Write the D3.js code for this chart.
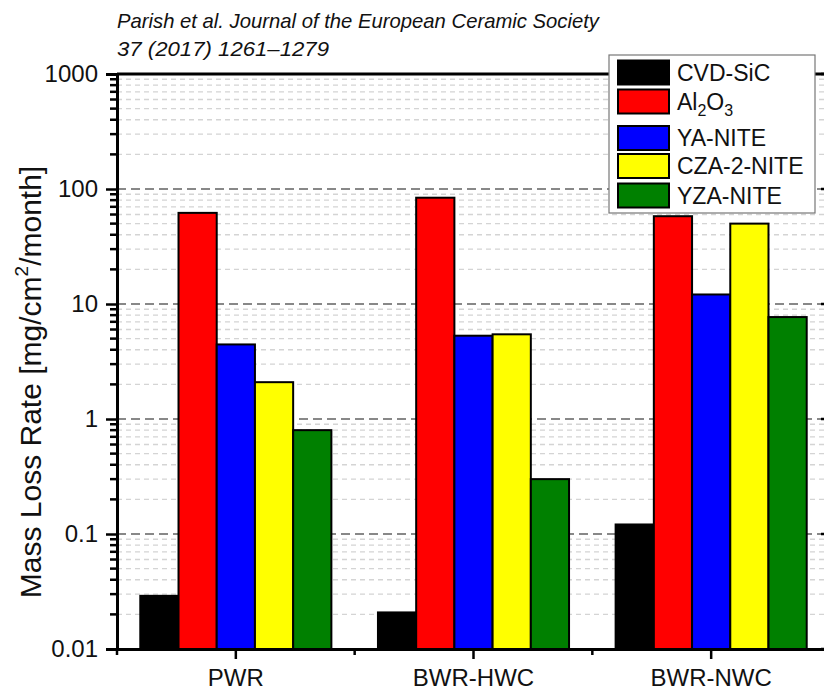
<!DOCTYPE html>
<html>
<head>
<meta charset="utf-8">
<script src="https://cdn.jsdelivr.net/npm/d3@7"></script>
<style>
  body { margin: 0; background: #fff; }
  text { font-family: "Liberation Sans", Arial, sans-serif; }
</style>
</head>
<body>
<svg id="chart"></svg>
<script>
const width = 824;
const height = 690;

// data
const reactors = ['PWR', 'BWR-HWC', 'BWR-NWC'];
const materials = ['CVD-SiC', 'Al2O3', 'YA-NITE', 'CZA-2-NITE', 'YZA-NITE'];
const colors = ['#000000', '#ff0000', '#0000ff', '#ffff00', '#008000'];
const cvdSic = [0.029, 0.0208, 0.121];
const al2o3 = [62, 84, 58];
const yaNite = [4.45, 5.3, 12.1];
const cza2Nite = [2.09, 5.45, 50];
const yzaNite = [0.8, 0.3, 7.7];
const series = [cvdSic, al2o3, yaNite, cza2Nite, yzaNite];
const yTicks = [0.01, 0.1, 1, 10, 100, 1000];
const yTickLabels = ['0.01', '0.1', '1', '10', '100', '1000'];

const pLeft = 117, pRight = 830, pTop = 74, pBottom = 649;

const svg = d3.select("#chart")
    .attr("width", width)
    .attr("height", height);

const x = d3.scaleBand()
    .domain(reactors)
    .range([pLeft, pRight])
    .paddingInner(0)
    .paddingOuter(0);

const groupW = x.bandwidth() * 0.804;
const xInner = d3.scaleBand()
    .domain(materials)
    .range([0, groupW]);

const y = d3.scaleLog()
    .domain([0.01, 1000])
    .range([pBottom, pTop]);

// minor values between decades
var minor = [];
for (let e = -2; e < 3; e++) {
    for (let m = 2; m <= 9; m++) minor.push(m * Math.pow(10, e));
}

// grid
svg.append("g").selectAll("line")
    .data(minor)
    .enter()
    .append("line")
    .attr("x1", pLeft).attr("x2", pRight)
    .attr("y1", d => y(d)).attr("y2", d => y(d))
    .attr("stroke", "#d4d4d4")
    .attr("stroke-width", 1.3)
    .attr("stroke-dasharray", "5,4");

svg.append("g").selectAll("line")
    .data(yTicks.slice(1, 5))
    .enter()
    .append("line")
    .attr("x1", pLeft).attr("x2", pRight)
    .attr("y1", d => y(d)).attr("y2", d => y(d))
    .attr("stroke", "#888")
    .attr("stroke-width", 2)
    .attr("stroke-dasharray", "9,5");

// bars
const groups = svg.append("g").selectAll("g")
    .data(reactors)
    .enter()
    .append("g")
    .attr("transform", d => `translate(${x(d) + (x.bandwidth() - groupW) / 2},0)`);

groups.selectAll("rect")
    .data((d, i) => materials.map((m, j) => ({ m: m, v: series[j][i], c: colors[j] })))
    .enter()
    .append("rect")
    .attr("x", d => xInner(d.m))
    .attr("width", xInner.bandwidth())
    .attr("y", d => y(d.v))
    .attr("height", d => pBottom - y(d.v))
    .attr("fill", d => d.c)
    .attr("stroke", "black")
    .attr("stroke-width", 2);

// frame
svg.append("line").attr("x1", pLeft).attr("x2", pRight).attr("y1", pTop).attr("y2", pTop)
    .attr("stroke", "black").attr("stroke-width", 3);
svg.append("line").attr("x1", pRight).attr("x2", pRight).attr("y1", pTop).attr("y2", pBottom)
    .attr("stroke", "black").attr("stroke-width", 3);

// y axis
const yAxis = d3.axisLeft(y)
    .tickValues(yTicks)
    .tickFormat((d, i) => yTickLabels[i])
    .tickSize(11)
    .tickPadding(8);
const gy = svg.append("g")
    .attr("transform", `translate(${pLeft},0)`)
    .call(yAxis);
gy.select(".domain").attr("stroke-width", 3);
gy.selectAll(".tick line").attr("stroke-width", 2.5);
gy.selectAll(".tick text")
    .attr("font-size", 24)
    .attr("font-family", "Liberation Sans, Arial, sans-serif")
    .attr("fill", "#111");

svg.append("g").selectAll("line")
    .data(minor)
    .enter()
    .append("line")
    .attr("x1", pLeft - 7).attr("x2", pLeft + 2)
    .attr("y1", d => y(d)).attr("y2", d => y(d))
    .attr("stroke", "black")
    .attr("stroke-width", 2.5);

// right inward ticks
svg.append("g").selectAll("line")
    .data(yTicks)
    .enter()
    .append("line")
    .attr("x1", pRight - 9).attr("x2", pRight)
    .attr("y1", d => y(d)).attr("y2", d => y(d))
    .attr("stroke", "black")
    .attr("stroke-width", 2.5);

// x axis
const xAxis = d3.axisBottom(x).tickSize(10).tickPadding(10).tickSizeOuter(0);
const gx = svg.append("g")
    .attr("transform", `translate(0,${pBottom})`)
    .call(xAxis);
gx.select(".domain").attr("stroke-width", 3);
gx.selectAll(".tick line").attr("stroke-width", 2.5);
gx.selectAll(".tick text")
    .attr("font-size", 24)
    .attr("font-family", "Liberation Sans, Arial, sans-serif")
    .attr("fill", "#111");

// minor x ticks at the band edges
svg.append("g").selectAll("line")
    .data(reactors.map(r => x(r)))
    .enter()
    .append("line")
    .attr("x1", d => d).attr("x2", d => d)
    .attr("y1", pBottom).attr("y2", pBottom + 6)
    .attr("stroke", "black")
    .attr("stroke-width", 2.5);

// y label
const ylab = svg.append("text")
    .attr("transform", `translate(41,382) rotate(-90)`)
    .attr("text-anchor", "middle")
    .attr("font-size", 30)
    .attr("fill", "#111");
ylab.append("tspan").text("Mass Loss Rate [mg/cm");
ylab.append("tspan").attr("font-size", 19).attr("dy", -13).text("2");
ylab.append("tspan").attr("dy", 13).text("/month]");

// title
svg.append("text")
    .attr("x", 117).attr("y", 28)
    .attr("font-family", "Open Sans, sans-serif")
    .attr("font-style", "italic")
    .attr("font-size", 21)
    .attr("textLength", 482)
    .attr("lengthAdjust", "spacingAndGlyphs")
    .attr("fill", "#111")
    .text("Parish et al. Journal of the European Ceramic Society");
svg.append("text")
    .attr("x", 117).attr("y", 56)
    .attr("font-family", "Open Sans, sans-serif")
    .attr("font-style", "italic")
    .attr("font-size", 21)
    .attr("textLength", 212)
    .attr("lengthAdjust", "spacingAndGlyphs")
    .attr("fill", "#111")
    .text("37 (2017) 1261\u20131279");

// legend
const legRows = [72.5, 101.5, 138, 166, 195.5];
const legend = svg.append("g");
legend.append("rect")
    .attr("x", 609).attr("y", 55)
    .attr("width", 206).attr("height", 158)
    .attr("fill", "white")
    .attr("stroke", "#777")
    .attr("stroke-width", 1.2);
const items = legend.selectAll("g")
    .data(materials)
    .enter()
    .append("g")
    .attr("transform", (d, i) => `translate(0,${legRows[i]})`);
items.append("rect")
    .attr("x", 618).attr("y", -12)
    .attr("width", 51).attr("height", 24)
    .attr("fill", (d, i) => colors[i])
    .attr("stroke", "black")
    .attr("stroke-width", 2);
items.append("text")
    .attr("x", 677).attr("y", 8)
    .attr("font-size", 23)
    .attr("fill", "#111")
    .each(function(d) {
        const t = d3.select(this);
        if (d === 'Al2O3') {
            t.append("tspan").text("Al");
            t.append("tspan").attr("font-size", 16).attr("dy", 6).text("2");
            t.append("tspan").attr("dy", -6).text("O");
            t.append("tspan").attr("font-size", 16).attr("dy", 6).text("3");
        } else {
            t.text(d);
        }
    });
</script>
</body>
</html>
